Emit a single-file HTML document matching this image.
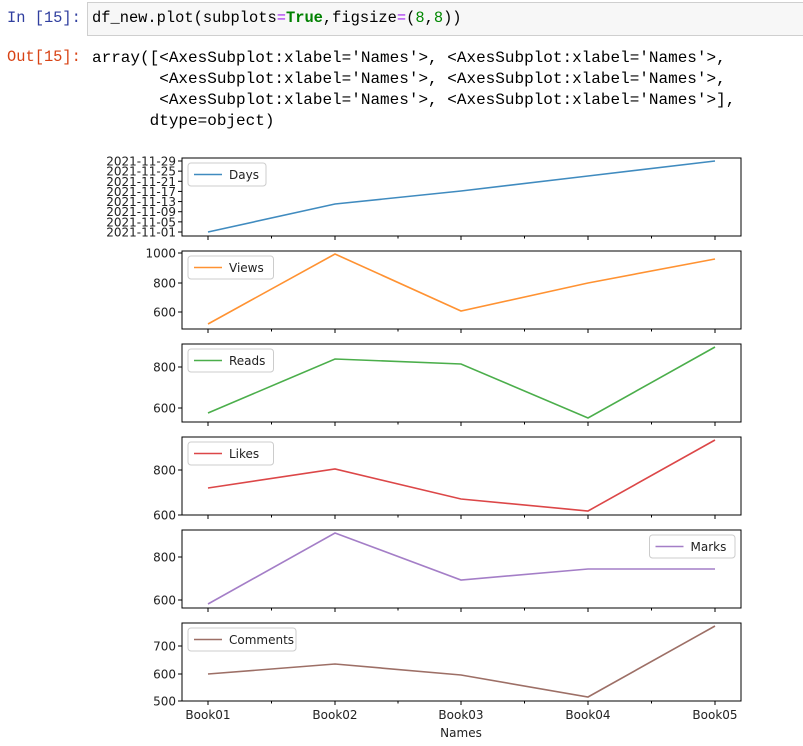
<!DOCTYPE html>
<html><head><meta charset="utf-8"><style>
body{margin:0;background:#fff;width:803px;height:746px;overflow:hidden;font-family:"Liberation Mono","Noto Sans CJK JP",monospace}
.in{position:absolute;left:7px;top:9px;color:#303f9f;font-size:15.4px}
.cell{position:absolute;left:87px;top:2px;width:720px;height:34px;background:#f7f7f7;border:1px solid #cfcfcf;box-sizing:border-box}
.code{position:absolute;left:92px;top:9px;font-size:15.4px;color:#000}
.out{position:absolute;left:7px;top:48px;color:#d84315;font-size:15.4px}
.arr{position:absolute;left:92px;top:48px;font-size:16px;line-height:21px;white-space:pre;color:#000}
svg{position:absolute;left:0;top:0}
svg text{font-family:"DejaVu Sans","Liberation Sans",sans-serif;font-size:12px;fill:#222}
</style></head><body>
<div class="in">In [15]:</div>
<div class="cell"></div>
<div class="code">df_new.plot(subplots<span style="color:#a020f0">=</span><b style="color:#008000">True</b>,figsize<span style="color:#a020f0">=</span>(<span style="color:#080">8</span>,<span style="color:#080">8</span>))</div>
<div class="out">Out[15]:</div>
<div class="arr">array([&lt;AxesSubplot:xlabel='Names'&gt;, &lt;AxesSubplot:xlabel='Names'&gt;,
       &lt;AxesSubplot:xlabel='Names'&gt;, &lt;AxesSubplot:xlabel='Names'&gt;,
       &lt;AxesSubplot:xlabel='Names'&gt;, &lt;AxesSubplot:xlabel='Names'&gt;],
      dtype=object)</div>
<svg id="s" width="803" height="746"></svg>
<script>
var xs=[208,335,461,588,715],L=182,R=741;
var P=[
{t:158,n:'Days',c:'#1f77b4',d:[232,204,191,176,161],ticks:[],leg:'l'},
{t:251,n:'Views',c:'#ff7f0e',d:[324,254,311,283,259],ticks:[[312,'600'],[283,'800'],[253,'1000']],leg:'l'},
{t:344,n:'Reads',c:'#2ca02c',d:[413,359,364,418,347],ticks:[[408,'600'],[367,'800']],leg:'l'},
{t:437,n:'Likes',c:'#d62728',d:[488,469,499,511,440],ticks:[[515,'600'],[470,'800']],leg:'l'},
{t:530,n:'Marks',c:'#9467bd',d:[604,533,580,569,569],ticks:[[600,'600'],[557,'800']],leg:'r'},
{t:623,n:'Comments',c:'#8c564b',d:[674,664,675,697,626],ticks:[[701,'500'],[674,'600'],[646,'700']],leg:'l'}];
['01','05','09','13','17','21','25','29'].forEach(function(d,i){P[0].ticks.push([232-i*(71/7),'2021-11-'+d]);});
var h='';
P.forEach(function(p,k){
 var b=p.t+78;
 h+='<rect x="'+L+'" y="'+p.t+'" width="'+(R-L)+'" height="78" fill="none" stroke="#000" stroke-width="1"/>';
 p.ticks.forEach(function(t){h+='<line x1="'+(L-4)+'" x2="'+L+'" y1="'+t[0]+'" y2="'+t[0]+'" stroke="#000"/><text x="'+(L-6)+'" y="'+(t[0]+4.5)+'" text-anchor="end">'+t[1]+'</text>';});
 xs.forEach(function(x){h+='<line x1="'+x+'" x2="'+x+'" y1="'+b+'" y2="'+(b+4)+'" stroke="#000"/>';});
 for(var i=0;i<4;i++){var m=(xs[i]+xs[i+1])/2;h+='<line x1="'+m+'" x2="'+m+'" y1="'+b+'" y2="'+(b+2.5)+'" stroke="#000"/>';}
 h+='<polyline fill="none" stroke="'+p.c+'" stroke-opacity="0.85" stroke-width="1.6" points="'+xs.map(function(x,i){return x+','+p.d[i]}).join(' ')+'"/>';
 var w=p.n.length*7.5+48, lx=p.leg=='l'?L+6:R-6-w, ly=p.t+5;
 h+='<rect x="'+lx+'" y="'+ly+'" width="'+w+'" height="23" rx="3" fill="#fff" fill-opacity="0.8" stroke="#ccc"/>';
 h+='<line x1="'+(lx+6)+'" x2="'+(lx+34)+'" y1="'+(ly+11.5)+'" y2="'+(ly+11.5)+'" stroke="'+p.c+'" stroke-opacity="0.85" stroke-width="1.6"/>';
 h+='<text x="'+(lx+41)+'" y="'+(ly+16)+'">'+p.n+'</text>';
});
['Book01','Book02','Book03','Book04','Book05'].forEach(function(s,i){h+='<text x="'+xs[i]+'" y="719" text-anchor="middle">'+s+'</text>';});
h+='<text x="461" y="737" text-anchor="middle">Names</text>';
document.getElementById('s').innerHTML=h;
</script>
</body></html>
